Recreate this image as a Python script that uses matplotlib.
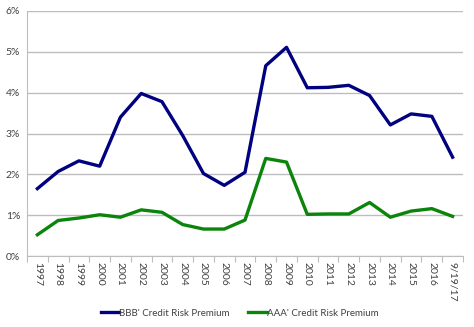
#!/usr/bin/env python3

import matplotlib.pyplot as plt
from matplotlib.ticker import FuncFormatter, MultipleLocator

plt.rcParams['font.family'] = ['Lato', 'DejaVu Sans']

years = ['1997', '1998', '1999', '2000', '2001', '2002', '2003', '2004', '2005',
         '2006', '2007', '2008', '2009', '2010', '2011', '2012', '2013', '2014',
         '2015', '2016', '9/19/17']
bbb = [1.65, 2.07, 2.33, 2.20, 3.40, 3.98, 3.78, 2.95, 2.02, 1.73, 2.05,
       4.66, 5.11, 4.12, 4.13, 4.18, 3.93, 3.21, 3.48, 3.42, 2.42]
aaa = [0.52, 0.87, 0.93, 1.01, 0.95, 1.13, 1.07, 0.77, 0.66, 0.66, 0.88,
       2.39, 2.30, 1.02, 1.03, 1.03, 1.31, 0.95, 1.10, 1.16, 0.97]

TEXT = '#404040'

fig = plt.figure(figsize=(4.74, 3.27), dpi=100)
ax = fig.add_axes([27 / 474, 1 - 256 / 327, 436 / 474, 245 / 327])

x = list(range(len(years)))
ax.plot(x, bbb, color='#000080', lw=2.4, label="BBB' Credit Risk Premium")
ax.plot(x, aaa, color='#0a840a', lw=2.4, label="AAA' Credit Risk Premium")

ax.set_ylim(0, 6)
ax.set_xlim(-0.5, len(years) - 0.5)
ax.yaxis.set_major_locator(MultipleLocator(1))
ax.yaxis.set_major_formatter(FuncFormatter(lambda v, p: '%d%%' % v))
ax.grid(axis='y', color='#bdbdbd', lw=1)
ax.set_axisbelow(True)

# category axis: ticks between categories, labels centred
ax.set_xticks([i - 0.5 for i in range(len(years) + 1)], minor=False)
ax.set_xticklabels([])
ax.set_xticks(x, minor=True)
ax.set_xticklabels(years, minor=True, rotation=270, fontsize=7.5, color=TEXT)
ax.tick_params(axis='x', which='minor', length=0, pad=4)
ax.tick_params(axis='x', which='major', length=4, color='#bdbdbd')
ax.tick_params(axis='y', length=0, labelsize=7.5, labelcolor=TEXT, pad=5)

for s in ['top', 'right']:
    ax.spines[s].set_visible(False)
ax.spines['left'].set_color('#bdbdbd')
ax.spines['bottom'].set_color('#bdbdbd')

fig.legend(loc='center', bbox_to_anchor=(0.505, 1 - 313 / 327), ncol=2,
           frameon=False, fontsize=7, handlelength=1.9, handletextpad=0,
           columnspacing=1.9, labelcolor=TEXT)

plt.savefig('out.png', dpi=100)
